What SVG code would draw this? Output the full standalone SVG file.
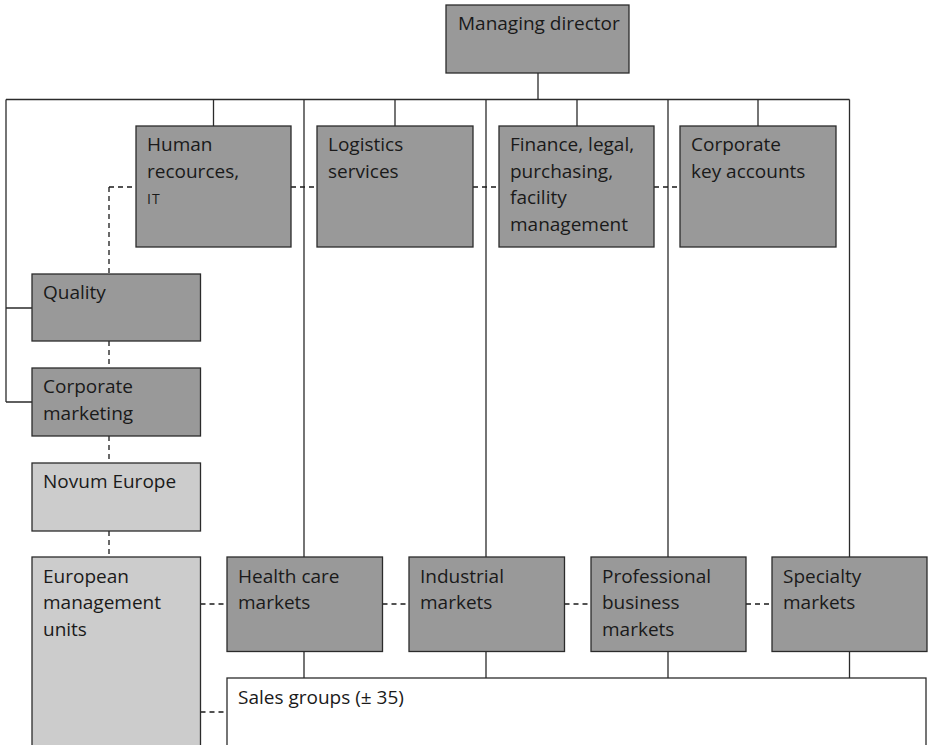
<svg xmlns="http://www.w3.org/2000/svg" width="929" height="745" viewBox="0 0 929 745">
  <style>
    .box { stroke: #2b2b2b; stroke-width: 1.3; }
    .dark { fill: #999999; }
    .light { fill: #cccccc; }
    .white { fill: #ffffff; }
    .label { font-family: "Open Sans", "Noto Sans", sans-serif; font-size: 19px; fill: #1a1a1a; }
    .sc { font-size: 14px; letter-spacing: 1px; }
    .solid { stroke: #2b2b2b; stroke-width: 1.3; fill: none; }
    .dash { stroke: #1a1a1a; stroke-width: 1.3; fill: none; stroke-dasharray: 5 4; }
  </style>
  <rect width="929" height="745" fill="#ffffff"/>

  <g id="connectors">
    <!-- solid reporting lines -->
    <path class="solid" d="M538 73 V99.5 M6 99.5 H849.5 M6 99.5 V402 M6 308 H32 M6 402 H32"/>
    <path class="solid" d="M213.5 99.5 V126 M395 99.5 V126 M577 99.5 V126 M758 99.5 V126"/>
    <path class="solid" d="M304 99.5 V557 M486 99.5 V557 M668 99.5 V557 M849.5 99.5 V557"/>
    <path class="solid" d="M304 651.5 V678 M486 651.5 V678 M668 651.5 V678 M849.5 651.5 V678"/>
    <!-- dashed coordination lines -->
    <path class="dash" d="M109 187 H136 M291 187 H317 M473 187 H499 M654 187 H680"/>
    <path class="dash" d="M109 187 V274 M109 341 V368 M109 436 V463 M109 531 V557"/>
    <path class="dash" d="M200.5 604 H227 M382.5 604 H409 M564.5 604 H591 M746 604 H772"/>
    <path class="dash" d="M200.5 712 H227"/>
  </g>

  <g id="managing-director">
    <rect class="box dark" x="446" y="5" width="183" height="68"/>
    <text class="label" x="458" y="30">Managing director</text>
  </g>

  <g id="human-resources">
    <rect class="box dark" x="136" y="126" width="155" height="121"/>
    <text class="label" x="147" y="151">Human</text>
    <text class="label" x="147" y="177.5">recources,</text>
    <text class="label sc" x="147" y="204">IT</text>
  </g>

  <g id="logistics">
    <rect class="box dark" x="317" y="126" width="156" height="121"/>
    <text class="label" x="328" y="151">Logistics</text>
    <text class="label" x="328" y="177.5">services</text>
  </g>

  <g id="finance">
    <rect class="box dark" x="499" y="126" width="155" height="121"/>
    <text class="label" x="510" y="151">Finance, legal,</text>
    <text class="label" x="510" y="177.5">purchasing,</text>
    <text class="label" x="510" y="204">facility</text>
    <text class="label" x="510" y="230.5">management</text>
  </g>

  <g id="key-accounts">
    <rect class="box dark" x="680" y="126" width="156" height="121"/>
    <text class="label" x="691" y="151">Corporate</text>
    <text class="label" x="691" y="177.5">key accounts</text>
  </g>

  <g id="quality">
    <rect class="box dark" x="32" y="274" width="168.5" height="67"/>
    <text class="label" x="43" y="298.5">Quality</text>
  </g>

  <g id="corporate-marketing">
    <rect class="box dark" x="32" y="368" width="168.5" height="68"/>
    <text class="label" x="43" y="393">Corporate</text>
    <text class="label" x="43" y="419.5">marketing</text>
  </g>

  <g id="novum-europe">
    <rect class="box light" x="32" y="463" width="168.5" height="68"/>
    <text class="label" x="43" y="488">Novum Europe</text>
  </g>

  <g id="european-units">
    <rect class="box light" x="32" y="557" width="168.5" height="200"/>
    <text class="label" x="43" y="582.5">European</text>
    <text class="label" x="43" y="609">management</text>
    <text class="label" x="43" y="635.5">units</text>
  </g>

  <g id="health-care">
    <rect class="box dark" x="227" y="557" width="155.5" height="94.5"/>
    <text class="label" x="238" y="582.5">Health care</text>
    <text class="label" x="238" y="609">markets</text>
  </g>

  <g id="industrial">
    <rect class="box dark" x="409" y="557" width="155.5" height="94.5"/>
    <text class="label" x="420" y="582.5">Industrial</text>
    <text class="label" x="420" y="609">markets</text>
  </g>

  <g id="professional">
    <rect class="box dark" x="591" y="557" width="155" height="94.5"/>
    <text class="label" x="602" y="582.5">Professional</text>
    <text class="label" x="602" y="609">business</text>
    <text class="label" x="602" y="635.5">markets</text>
  </g>

  <g id="specialty">
    <rect class="box dark" x="772" y="557" width="155" height="94.5"/>
    <text class="label" x="783" y="582.5">Specialty</text>
    <text class="label" x="783" y="609">markets</text>
  </g>

  <g id="sales-groups">
    <rect class="box white" x="227" y="678" width="699" height="80"/>
    <text class="label" x="238" y="704">Sales groups (± 35)</text>
  </g>
</svg>
